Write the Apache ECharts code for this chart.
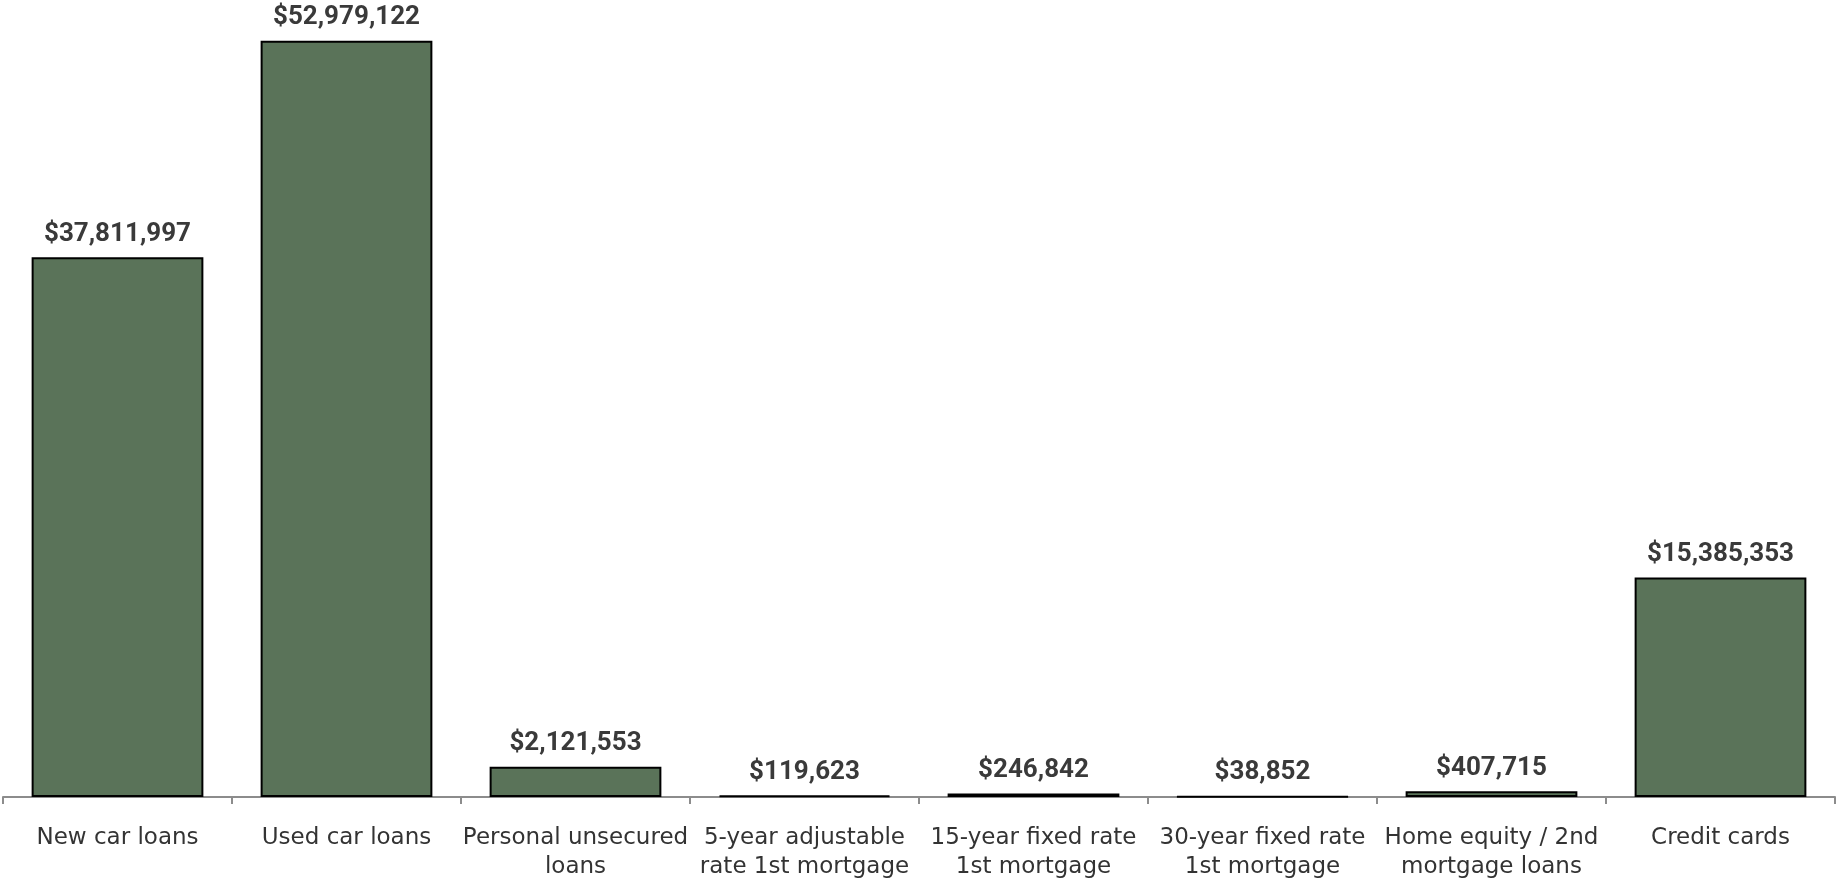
<!DOCTYPE html>
<html>
<head>
<meta charset="utf-8">
<script src="https://cdn.jsdelivr.net/npm/echarts@6/dist/echarts.min.js"></script>
<style>
html,body{margin:0;padding:0;background:#fff;}
#chart{width:1839px;height:882px;}
</style>
</head>
<body>
<div id="chart"></div>
<script>
const categories = [
  "New car loans",
  "Used car loans",
  "Personal unsecured\nloans",
  "5-year adjustable\nrate 1st mortgage",
  "15-year fixed rate\n1st mortgage",
  "30-year fixed rate\n1st mortgage",
  "Home equity / 2nd\nmortgage loans",
  "Credit cards"
];
const values = [37811997, 52979122, 2121553, 119623, 246842, 38852, 407715, 15385353];

const chart = echarts.init(document.getElementById('chart'), null, {renderer: 'canvas'});
chart.setOption({
  animation: false,
  backgroundColor: '#ffffff',
  grid: {left: 3, right: 4, top: 12, bottom: 83, containLabel: false},
  xAxis: {
    type: 'category',
    data: categories,
    axisLine: {show: true, lineStyle: {color: '#8c8c8c', width: 2}},
    axisTick: {show: true, length: 7, alignWithLabel: false, lineStyle: {color: '#8c8c8c', width: 2}},
    axisLabel: {
      interval: 0,
      margin: 27,
      color: '#333333',
      fontFamily: 'DejaVu Sans',
      fontSize: 23,
      lineHeight: 29
    }
  },
  yAxis: {
    type: 'value',
    min: 0,
    max: 55000000,
    show: false,
    splitLine: {show: false}
  },
  series: [{
    type: 'bar',
    data: values,
    barWidth: '75%',
    itemStyle: {color: '#5a7359', borderColor: '#000000', borderWidth: 2},
    label: {
      show: true,
      position: 'top',
      distance: 10,
      color: '#3a3a3a',
      fontFamily: 'Roboto',
      fontSize: 26,
      fontWeight: 'bold',
      formatter: p => '$' + p.value.toLocaleString('en-US')
    }
  }]
});
</script>
</body>
</html>
